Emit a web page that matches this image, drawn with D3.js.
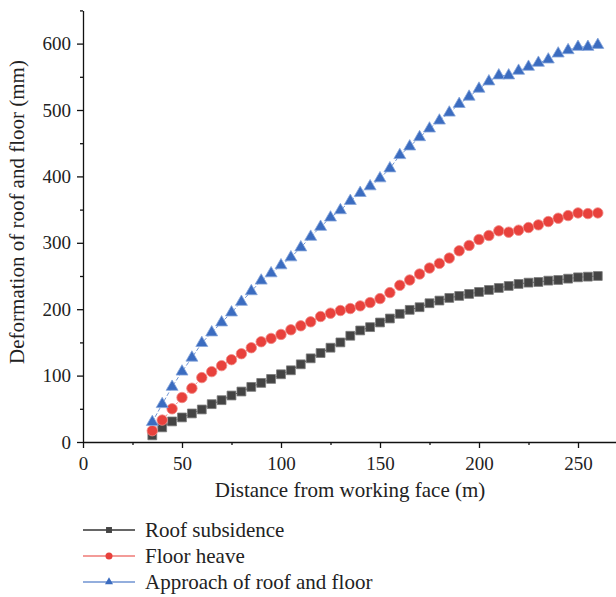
<!DOCTYPE html>
<html>
<head>
<meta charset="utf-8">
<script src="https://cdn.jsdelivr.net/npm/d3@7"></script>
<style>
  html, body { margin: 0; padding: 0; background: #fff; }
  svg { display: block; font-family: "Liberation Serif", "DejaVu Serif", serif; }
</style>
</head>
<body>
<svg id="chart" width="616" height="597"></svg>
<script>
const distance = [35, 40, 45, 50, 55, 60, 65, 70, 75, 80, 85, 90, 95, 100, 105, 110, 115, 120, 125, 130,
    135, 140, 145, 150, 155, 160, 165, 170, 175, 180, 185, 190, 195, 200, 205, 210, 215, 220, 225, 230,
    235, 240, 245, 250, 255, 260]

const roofSubsidence = [10, 22, 31, 37, 43, 49, 57, 63, 70, 76, 83, 89, 95, 102, 108, 117, 126, 134, 142, 150,
    160, 168, 173, 180, 186, 193, 199, 203, 209, 213, 217, 220, 223, 226, 229, 232, 235, 238, 240, 241,
    243, 244, 246, 248, 249, 250]

const floorHeave = [17, 33, 50, 67, 81, 97, 106, 115, 124, 133, 142, 151, 156, 162, 169, 175, 181, 189, 194, 198,
    201, 205, 210, 216, 225, 236, 244, 253, 262, 269, 277, 288, 296, 305, 311, 318, 316, 319, 323, 327,
    332, 337, 341, 345, 344, 345]

const approach = [30, 57, 83, 106, 127, 149, 165, 180, 195, 211, 227, 243, 254, 266, 278, 293, 309, 324, 338, 349,
    363, 375, 385, 397, 412, 432, 445, 459, 472, 484, 496, 509, 520, 532, 543, 552, 552, 559, 565, 571,
    576, 585, 590, 595, 595, 598]

const xTicks = [0, 50, 100, 150, 200, 250]
const xMinorTicks = [25, 75, 125, 175, 225]
const yTicks = [0, 100, 200, 300, 400, 500, 600]
const yMinorTicks = [50, 150, 250, 350, 450, 550, 650]

const seriesNames = ['Roof subsidence', 'Floor heave', 'Approach of roof and floor']

const series = [
    { name: seriesNames[0], values: roofSubsidence, fill: '#444444', stroke: '#7a7a7a', line: '#333333', dash: null, symbol: d3.symbolSquare, size: 78 },
    { name: seriesNames[1], values: floorHeave, fill: '#e8413c', stroke: '#f08a86', line: '#ef7a76', dash: '2,2', symbol: d3.symbolCircle, size: 86 },
    { name: seriesNames[2], values: approach, fill: '#3b6cc0', stroke: '#86a6da', line: '#6f93d2', dash: '4,2', symbol: d3.symbolTriangle, size: 62 }
]

const svg = d3.select('#chart')
const x = d3.scaleLinear().domain([0, 270]).range([83, 617.6])
const y = d3.scaleLinear().domain([0, 650]).range([442, 10.4])

// minor ticks first
svg.append('g')
    .attr('transform', `translate(0, ${y(0)})`)
    .call(d3.axisBottom(x).tickValues(xMinorTicks).tickSize(3).tickFormat(''))
    .call(g => g.select('.domain').remove())

svg.append('g')
    .attr('transform', `translate(${x(0)}, 0)`)
    .call(d3.axisLeft(y).tickValues(yMinorTicks).tickSize(3).tickFormat(''))
    .call(g => g.select('.domain').remove())

const xAxis = svg.append('g')
    .attr('transform', `translate(0, ${y(0)})`)
    .call(d3.axisBottom(x).tickValues(xTicks).tickSize(6).tickSizeOuter(0).tickPadding(6))

const yAxis = svg.append('g')
    .attr('transform', `translate(${x(0)}, 0)`)
    .call(d3.axisLeft(y).tickValues(yTicks).tickSize(6).tickSizeOuter(0).tickPadding(6))

svg.selectAll('.tick line, .domain').attr('stroke', '#111').attr('stroke-width', 1.3)
svg.selectAll('.tick text')
    .attr('font-family', '"Liberation Serif", serif')
    .attr('font-size', 19)
    .attr('fill', '#222')
xAxis.selectAll('.tick text').attr('dy', '0.85em')

svg.append('text')
    .attr('x', 350)
    .attr('y', 497)
    .attr('text-anchor', 'middle')
    .attr('font-size', 21)
    .attr('fill', '#222')
    .text('Distance from working face (m)')

svg.append('text')
    .attr('transform', `translate(24, 212) rotate(-90)`)
    .attr('text-anchor', 'middle')
    .attr('font-size', 21)
    .attr('fill', '#222')
    .text('Deformation of roof and floor (mm)')

const line = d3.line()
    .x((d, i) => x(distance[i]))
    .y(d => y(d))

series.forEach(s => {
    svg.append('path')
        .datum(s.values)
        .attr('fill', 'none')
        .attr('stroke', s.line)
        .attr('stroke-width', 1)
        .attr('stroke-dasharray', s.dash)
        .attr('d', line)

    svg.append('g')
        .selectAll('path')
        .data(s.values)
        .join('path')
        .attr('transform', (d, i) => `translate(${x(distance[i])}, ${y(d)})`)
        .attr('d', d3.symbol().type(s.symbol).size(s.size))
        .attr('fill', s.fill)
        .attr('stroke', s.stroke)
        .attr('stroke-width', 0.8)
})

// legend
const legendY = [530, 556, 582]
const legend = svg.append('g')
series.forEach((s, i) => {
    const g = legend.append('g').attr('transform', `translate(83, ${legendY[i]})`)
    g.append('line')
        .attr('x1', 0).attr('x2', 52)
        .attr('stroke', s.line)
        .attr('stroke-width', 1.3)
    g.append('path')
        .attr('transform', 'translate(26, 0)')
        .attr('d', d3.symbol().type(s.symbol).size(s.size * 0.45))
        .attr('fill', s.fill)
    g.append('text')
        .attr('x', 62)
        .attr('dy', '0.35em')
        .attr('font-size', 21)
        .attr('fill', '#222')
        .text(s.name)
})
</script>
</body>
</html>
